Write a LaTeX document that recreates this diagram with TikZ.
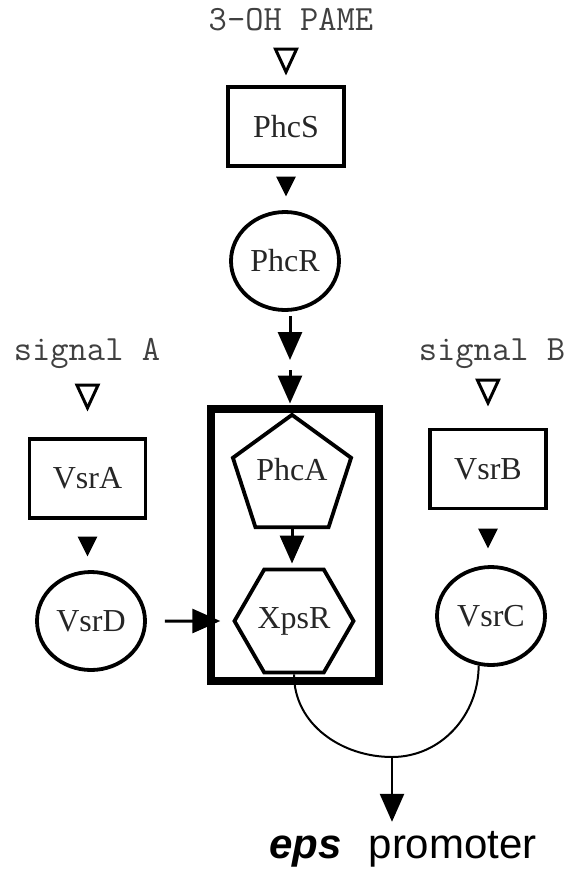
\documentclass[tikz,border=0pt]{standalone}
\usepackage{fontspec}
\setmainfont{Liberation Serif}
\newfontfamily\promFont{Liberation Sans}
\usetikzlibrary{arrows.meta, shapes.geometric}

\begin{document}
\begin{tikzpicture}[x=1pt, y=-1pt,
	prot/.style={draw, line width=3.8pt, inner sep=0pt, text=black!85, font=\fontsize{32}{36}\selectfont},
	sensor/.style={prot, rectangle, minimum width=116pt, minimum height=79pt},
	regulator/.style={prot, ellipse, minimum width=108pt, minimum height=98pt},
	sigText/.style={inner sep=0pt, text height=20pt, text depth=6pt, text=black!75, font=\ttfamily\fontsize{35.5}{38}\selectfont},
	tipOpen/.style={-{Triangle[open, length=28pt, width=25pt]}, line width=3pt},
	tipSmall/.style={-{Triangle[length=20pt, width=19pt]}, line width=3pt},
	tipBig/.style={-{Triangle[length=28pt, width=24pt]}, line width=3pt}]
	\useasboundingbox (0,0) rectangle (570,871);

	\node[draw, line width=8pt, minimum width=168pt, minimum height=272pt, inner sep=0pt] (frame) at (295,545) {};

	\node[sigText] (pame) at (291,23) {3-OH PAME};
	\node[sensor] (PhcS) at (286,126.5) {PhcS};
	\node[regulator] (PhcR) at (285,261) {PhcR};
	\node[prot, regular polygon, regular polygon sides=5, minimum size=113pt, text height=22pt, text depth=16pt] (PhcA) at (292,477) {PhcA};
	\node[prot, regular polygon, regular polygon sides=6, minimum size=107pt] (XpsR) at (294,621) {XpsR};

	\node[sigText] (sigA) at (87,353) {signal A};
	\node[sensor] (VsrA) at (87.5,478.5) {VsrA};
	\node[regulator] (VsrD) at (91,621) {VsrD};

	\node[sigText] (sigB) at (492,353) {signal B};
	\node[sensor] (VsrB) at (488,469) {VsrB};
	\node[regulator] (VsrC) at (491,616) {VsrC};

	\node[anchor=base, inner sep=0pt, text height=22pt, font=\promFont\fontsize{42}{46}\selectfont] (eps) at (403,858) {\textbf{\textit{eps}}\hspace{27pt}promoter};

	\coordinate (gapA) at (290,360);
	\coordinate (gapB) at (290,370);
	\coordinate (join) at (392,757);

	\draw[tipOpen, shorten <=12pt, shorten >=9.5pt] (pame.south -| PhcS) -- (PhcS.north);
	\draw[tipSmall, shorten <=11.5pt, shorten >=13.5pt] (PhcS.south) -- (PhcS.south |- PhcR.north);
	\draw[tipBig, shorten <=4pt] (PhcR.south -| gapA) -- (gapA);
	\draw[tipBig, shorten >=1.5pt] (gapB) -- (frame.north -| gapB);
	\draw[tipBig, shorten >=4pt] (PhcA.south) -- (PhcA.south |- XpsR.north);

	\draw[tipOpen, shorten <=18.5pt, shorten >=25.5pt] (sigA.south -| VsrA) -- (VsrA.north);
	\draw[tipSmall, shorten <=18.5pt, shorten >=13.5pt] (VsrA.south) -- (VsrA.south |- VsrD.north);
	\draw[tipBig, shorten <=18pt, shorten >=12pt] (VsrD.east) -- (XpsR.west);

	\draw[tipOpen, shorten <=13.5pt, shorten >=21pt] (sigB.south -| VsrB) -- (VsrB.north);
	\draw[tipSmall, shorten <=21pt, shorten >=16.5pt] (VsrB.south) -- (VsrB.south |- VsrC.north);

	\draw[line width=2pt] (XpsR.south) to[out=-90, in=180] (join) to[out=0, in=-90] (VsrC.-104);
	\draw[tipBig, line width=2.5pt, shorten >=14pt] (join) -- (join |- eps.north);
\end{tikzpicture}
\end{document}
